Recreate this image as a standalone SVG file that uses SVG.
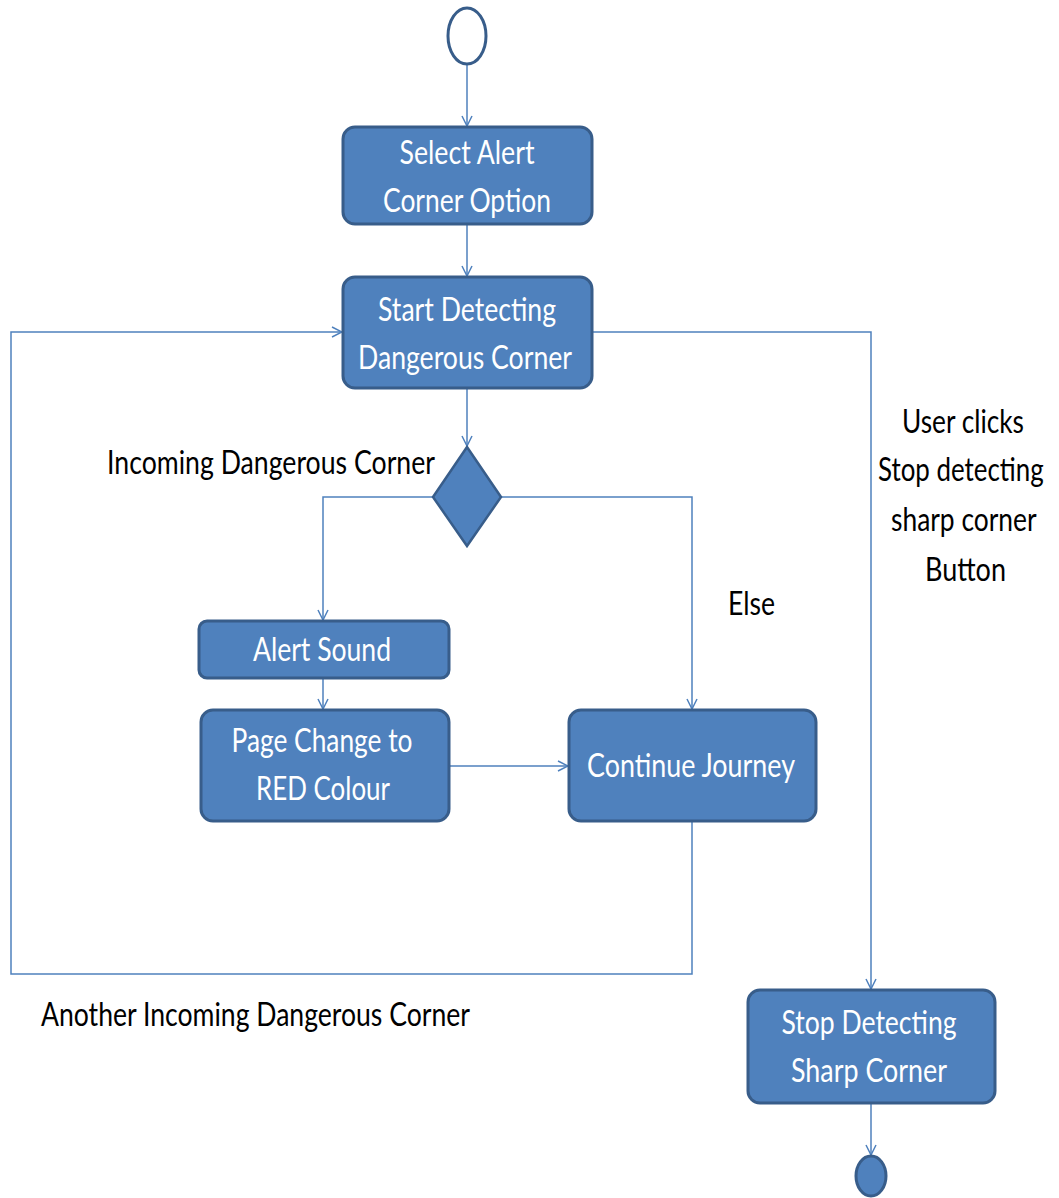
<svg xmlns="http://www.w3.org/2000/svg" width="1059" height="1198" viewBox="0 0 1059 1198">
  <style>
    .act { fill: #4f81bd; stroke: #385d8a; stroke-width: 3; }
    .wt { fill: #ffffff; font-family: Lato, "Liberation Sans", sans-serif; font-size: 33px; text-anchor: middle; }
    .bt { fill: #000000; font-family: Lato, "Liberation Sans", sans-serif; font-size: 33px; }
    .flow { fill: none; stroke: #4f81bd; stroke-width: 1.5; }
  </style>
  <defs>
    <marker id="arrow" viewBox="0 0 12 12" refX="11" refY="6" markerWidth="12" markerHeight="12" markerUnits="userSpaceOnUse" orient="auto">
      <path d="M1,1 L11,6 L1,11" fill="none" stroke="#4f81bd" stroke-width="1.5"/>
    </marker>
  </defs>
  <rect width="1059" height="1198" fill="#ffffff"/>

  <!-- connectors -->
  <g id="connectors">
    <path class="flow" d="M467,65 L467,126" marker-end="url(#arrow)"/>
    <path class="flow" d="M467,224 L467,276" marker-end="url(#arrow)"/>
    <path class="flow" d="M467,388 L467,446" marker-end="url(#arrow)"/>
    <path class="flow" d="M433,497 L323,497 L323,620" marker-end="url(#arrow)"/>
    <path class="flow" d="M501,497 L692,497 L692,709" marker-end="url(#arrow)"/>
    <path class="flow" d="M323,678 L323,709" marker-end="url(#arrow)"/>
    <path class="flow" d="M449,766 L568,766" marker-end="url(#arrow)"/>
    <path class="flow" d="M692,822 L692,974 L11,974 L11,332 L342,332" marker-end="url(#arrow)"/>
    <path class="flow" d="M592,332 L871,332 L871,989" marker-end="url(#arrow)"/>
    <path class="flow" d="M871,1103 L871,1155" marker-end="url(#arrow)"/>
  </g>

  <!-- initial node -->
  <g id="start">
    <ellipse cx="467" cy="36" rx="19" ry="28" fill="#ffffff" stroke="#385d8a" stroke-width="3"/>
  </g>

  <g id="select-alert">
    <rect class="act" x="343" y="127" width="249" height="97" rx="12"/>
    <text class="wt" x="467" y="164" textLength="135" lengthAdjust="spacingAndGlyphs">Select Alert</text>
    <text class="wt" x="467" y="212" textLength="168" lengthAdjust="spacingAndGlyphs">Corner Option</text>
  </g>

  <g id="start-detecting">
    <rect class="act" x="343" y="277" width="249" height="111" rx="12"/>
    <text class="wt" x="467" y="321" textLength="178" lengthAdjust="spacingAndGlyphs">Start Detecting</text>
    <text class="wt" x="465" y="369" textLength="214" lengthAdjust="spacingAndGlyphs">Dangerous Corner</text>
  </g>

  <g id="decision">
    <polygon points="467,447 501,497 467,546 433,497" fill="#4f81bd" stroke="#385d8a" stroke-width="2.5"/>
  </g>

  <g id="alert-sound">
    <rect class="act" x="199" y="621" width="250" height="57" rx="8"/>
    <text class="wt" x="322" y="661" textLength="138" lengthAdjust="spacingAndGlyphs">Alert Sound</text>
  </g>

  <g id="page-change">
    <rect class="act" x="201" y="710" width="248" height="111" rx="12"/>
    <text class="wt" x="322" y="752" textLength="181" lengthAdjust="spacingAndGlyphs">Page Change to</text>
    <text class="wt" x="323" y="800" textLength="134" lengthAdjust="spacingAndGlyphs">RED Colour</text>
  </g>

  <g id="continue-journey">
    <rect class="act" x="569" y="710" width="247" height="111" rx="12"/>
    <text class="wt" x="691" y="777" textLength="208" lengthAdjust="spacingAndGlyphs">Continue Journey</text>
  </g>

  <g id="stop-detecting">
    <rect class="act" x="748" y="990" width="247" height="113" rx="12"/>
    <text class="wt" x="869" y="1034" textLength="175" lengthAdjust="spacingAndGlyphs">Stop Detecting</text>
    <text class="wt" x="869" y="1082" textLength="156" lengthAdjust="spacingAndGlyphs">Sharp Corner</text>
  </g>

  <!-- final node -->
  <g id="end">
    <ellipse cx="871" cy="1176" rx="15" ry="20" fill="#4f81bd" stroke="#385d8a" stroke-width="3"/>
  </g>

  <!-- guard labels -->
  <g id="labels">
    <text class="bt" x="107" y="474" textLength="328" lengthAdjust="spacingAndGlyphs">Incoming Dangerous Corner</text>
    <text class="bt" x="728" y="615" textLength="47" lengthAdjust="spacingAndGlyphs">Else</text>
    <text class="bt" x="902" y="433" textLength="122" lengthAdjust="spacingAndGlyphs">User clicks</text>
    <text class="bt" transform="translate(878,481) scale(0.8,1)" x="0" y="0" textLength="207" lengthAdjust="spacingAndGlyphs">Stop detecting</text>
    <text class="bt" transform="translate(891,531) scale(0.8,1)" x="0" y="0" textLength="182" lengthAdjust="spacingAndGlyphs">sharp corner</text>
    <text class="bt" x="925" y="581" textLength="81" lengthAdjust="spacingAndGlyphs">Button</text>
    <text class="bt" x="41" y="1026" textLength="429" lengthAdjust="spacingAndGlyphs">Another Incoming Dangerous Corner</text>
  </g>
</svg>
